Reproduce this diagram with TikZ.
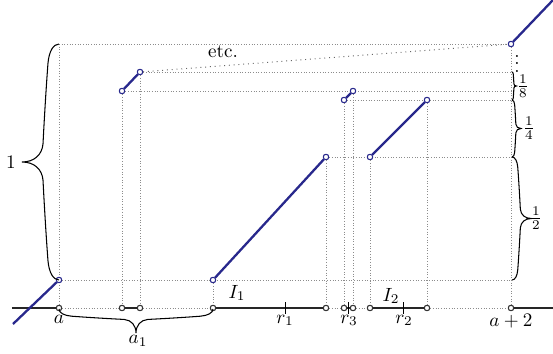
\documentclass[tikz,border=0pt]{standalone}
\usetikzlibrary{calc}
\definecolor{fblue}{RGB}{40,40,140}
\begin{document}
\begin{tikzpicture}[x=0.523pt,y=-0.523pt,
  guide/.style={densely dotted, black!45, line width=0.4pt},
  etcline/.style={dotted, black!60, line width=0.5pt},
  axisline/.style={line width=1.1pt, black!85},
  fline/.style={line width=1.2pt, fblue},
  fdot/.style={circle, draw=fblue, fill=white, inner sep=0pt, minimum size=2.8pt, line width=0.5pt},
  adot/.style={circle, draw=black!80, fill=white, inner sep=0pt, minimum size=2.8pt, line width=0.5pt},
  tick/.style={line width=0.4pt, black},
  brc/.style={line width=0.55pt, black},
  lbl/.style={inner sep=0pt, anchor=base},
  vbrace/.pic={\draw[brc] (0,0) .. controls (-6,0) and (-10,8) .. (-11,19)
      .. controls (-13,45) and (-15,80) .. (-16,100)
      .. controls (-17,111) and (-25,118) .. (-37,118)
      .. controls (-25,118) and (-17,125) .. (-16,136)
      .. controls (-15,156) and (-13,191) .. (-11,217)
      .. controls (-10,228) and (-6,236) .. (0,236);}]
\useasboundingbox (0,0) rectangle (553,354);

% coordinates
\coordinate (L0) at (12,308);
\coordinate (R0) at (553,308);
\coordinate (T0) at (59,44);
\coordinate (FL) at (13,324);
\coordinate (FR) at (553,0);
\coordinate (H280) at (511,280);
\coordinate (H157) at (511,157);
\coordinate (H100) at (511,100);
\coordinate (H91) at (511,91);
\coordinate (H72) at (511,72);
\coordinate (K1) at (285,308);
\coordinate (K3) at (348,308);
\coordinate (K2) at (403,308);

% axis points
\node[adot] (A0) at (59,308) {};
\node[adot] (A1) at (122,308) {};
\node[adot] (A2) at (140,308) {};
\node[adot] (A3) at (213,308) {};
\node[adot] (A4) at (326,308) {};
\node[adot] (A5) at (344,308) {};
\node[adot] (A6) at (353,308) {};
\node[adot] (A7) at (370,308) {};
\node[adot] (A8) at (427,308) {};
\node[adot] (A9) at (511,308) {};

% function points
\node[fdot] (F0) at (59,280) {};
\node[fdot] (F1) at (122,91) {};
\node[fdot] (F2) at (140,72) {};
\node[fdot] (F3) at (213,280) {};
\node[fdot] (F4) at (326,157) {};
\node[fdot] (F5) at (344,100) {};
\node[fdot] (F6) at (353,91) {};
\node[fdot] (F7) at (370,157) {};
\node[fdot] (F8) at (427,100) {};
\node[fdot] (F9) at (511,44) {};

% guides
\draw[guide] (T0) -- (A0);
\draw[guide] (T0) -- (F9);
\draw[guide] (F9) -- (A9);
\draw[guide] (F0) -- (H280);
\draw[guide] (F4) -- (H157);
\draw[guide] (F5) -- (H100);
\draw[guide] (F1) -- (H91);
\draw[guide] (F2) -- (H72);
\draw[guide] (F1) -- (A1);
\draw[guide] (F2) -- (A2);
\draw[guide] (F3) -- (A3);
\draw[guide] (F4) -- (A4);
\draw[guide] (F5) -- (A5);
\draw[guide] (F6) -- (A6);
\draw[guide] (F7) -- (A7);
\draw[guide] (F8) -- (A8);
\draw[guide] (A0) -- (A1);
\draw[guide] (A2) -- (A3);
\draw[guide] (A4) -- (A5);
\draw[guide] (A6) -- (A7);
\draw[guide] (A8) -- (A9);
\draw[etcline] (F2) -- (F9);

% axis
\draw[axisline] (L0) -- (A0);
\draw[axisline] (A1) -- (A2);
\draw[axisline] (A3) -- (A4);
\draw[axisline] (A5) -- (A6);
\draw[axisline] (A7) -- (A8);
\draw[axisline] (A9) -- (R0);
\draw[tick] ($(K1)+(0,-6)$) -- ($(K1)+(0,6)$);
\draw[tick] ($(K3)+(0,-6)$) -- ($(K3)+(0,6)$);
\draw[tick] ($(K2)+(0,-6)$) -- ($(K2)+(0,6)$);

% function graph
\draw[fline] (FL) -- (F0);
\draw[fline] (F1) -- (F2);
\draw[fline] (F3) -- (F4);
\draw[fline] (F5) -- (F6);
\draw[fline] (F7) -- (F8);
\draw[fline] (F9) -- (FR);

% redraw dots on top
\foreach \p in {{59,308},{122,308},{140,308},{213,308},{326,308},{344,308},{353,308},{370,308},{427,308},{511,308}}
  \node[adot] at (\p) {};
\foreach \p in {{59,280},{122,91},{140,72},{213,280},{326,157},{344,100},{353,91},{370,157},{427,100},{511,44}}
  \node[fdot] at (\p) {};

% braces
\pic at (59,44) {vbrace};
\pic[rotate=90, scale=0.6525] at (59,309) {vbrace};
\pic[scale=0.5212, xscale=-1] at (512,157) {vbrace};
\pic[scale=0.2415, xscale=-1] at (512,100) {vbrace};
\pic[scale=0.1186, xscale=-1] at (512,72) {vbrace};

% labels
\node (one) at (11,162) {$1$};
\node (a1) at (138,341) {$a_1$};
\node[lbl] (la) at (59,323) {$a$};
\node[lbl] (lr1) at (285,323) {$r_1$};
\node[lbl] (lr3) at (349,323) {$r_3$};
\node[lbl] (lr2) at (404,323) {$r_2$};
\node[lbl] (la2) at (511,326) {$a+2$};
\node[lbl] (I1) at (237,298) {$I_1$};
\node[lbl] (I2) at (391,301) {$I_2$};
\node[lbl] (etc) at (223,57) {etc.};
\node[inner sep=0pt] (vd) at (517,58) {$\vdots$};
\node (h8) at (523,86) {$\frac18$};
\node (h4) at (529,128) {$\frac14$};
\node (h2) at (536,218) {$\frac12$};
\end{tikzpicture}
\end{document}
